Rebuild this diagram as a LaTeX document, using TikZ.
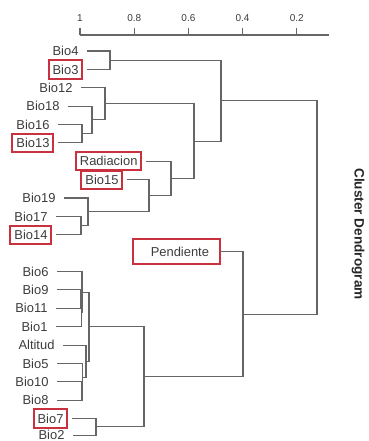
\documentclass[tikz,border=0pt]{standalone}
\usepackage{fontspec}
\setmainfont{Liberation Sans}
\usepackage{xcolor}

\definecolor{boxred}{HTML}{C8313D}
\definecolor{lnk}{HTML}{666666}
\definecolor{txt}{HTML}{3C3C3C}

\tikzset{
  lab/.style={anchor=east, inner xsep=3pt, outer xsep=3.4pt, minimum height=13.5pt,
    text=txt, font=\fontsize{9.7}{11}\selectfont},
  sel/.style={lab, draw=boxred, line width=1.5pt},
  den/.style={draw=lnk, line width=0.8pt},
  ticklab/.style={text=txt, font=\fontsize{7.5}{9}\selectfont, inner sep=0pt}
}

\begin{document}
\begin{tikzpicture}[x=0.75pt, y=-0.75pt]
\useasboundingbox (0,0) rectangle (368,441);

% axis
\coordinate (a0) at (80,35);
\coordinate (a1) at (329.3,35);
\draw[den] (a0) -- (a1);
\draw[den] (80,35) -- (80,28);
\node[ticklab] (t10) at (80,18) {1};
\draw[den] (134.2,35) -- (134.2,28);
\node[ticklab] (t08) at (134.2,18) {0.8};
\draw[den] (188.4,35) -- (188.4,28);
\node[ticklab] (t06) at (188.4,18) {0.6};
\draw[den] (242.6,35) -- (242.6,28);
\node[ticklab] (t04) at (242.6,18) {0.4};
\draw[den] (296.8,35) -- (296.8,28);
\node[ticklab] (t02) at (296.8,18) {0.2};

% leaves
\node[lab] (bio4) at (87,51.0) {Bio4};
\node[sel] (bio3) at (87,69.4) {Bio3};
\node[lab] (bio12) at (81,87.8) {Bio12};
\node[lab] (bio18) at (68,106.1) {Bio18};
\node[lab] (bio16) at (58,124.5) {Bio16};
\node[sel] (bio13) at (58,142.9) {Bio13};
\node[sel] (rad) at (146,161.3) {Radiacion};
\node[sel] (bio15) at (127,179.7) {Bio15};
\node[lab] (bio19) at (64,198.0) {Bio19};
\node[lab] (bio17) at (56,216.4) {Bio17};
\node[sel] (bio14) at (56,234.8) {Bio14};
\node[sel, outer xsep=0pt, minimum width=65.25pt, minimum height=18.75pt,
  text width=48.75pt, align=right, inner xsep=8.25pt] (pend) at (220,251.5) {Pendiente};
\node[lab] (bio6) at (57,271.6) {Bio6};
\node[lab] (bio9) at (57,289.9) {Bio9};
\node[lab] (bio11) at (56,308.3) {Bio11};
\node[lab] (bio1) at (56,326.7) {Bio1};
\node[lab] (alt) at (63,345.1) {Altitud};
\node[lab] (bio5) at (57,363.5) {Bio5};
\node[lab] (bio10) at (57,381.8) {Bio10};
\node[lab] (bio8) at (57,400.2) {Bio8};
\node[sel] (bio7) at (72,418.4) {Bio7};
\node[lab] (bio2) at (73,435.2) {Bio2};

% merges
\coordinate (m43) at (110,60.2);
\coordinate (m1613) at (82,133.7);
\coordinate (m18) at (92,119.9);
\coordinate (m12) at (105,103.9);
\coordinate (m1714) at (81,225.6);
\coordinate (m19) at (88,211.8);
\coordinate (m15) at (149,195.7);
\coordinate (mrad) at (171,178.5);
\coordinate (mmid) at (194,141.2);
\coordinate (mtop) at (221,100.7);
\coordinate (m911) at (81,299.1);
\coordinate (m1) at (81.5,312.9);
\coordinate (m6) at (82,292.3);
\coordinate (m108) at (82,391.0);
\coordinate (m5) at (82.5,377.2);
\coordinate (malt) at (86,361.2);
\coordinate (mc) at (89,326.7);
\coordinate (m72) at (96,426.8);
\coordinate (mlow) at (144,376.8);
\coordinate (mpend) at (243,314.2);
\coordinate (root) at (317,208);

% tree
\draw[den] (bio4.east) -| (m43) |- (bio3.east);
\draw[den] (bio16.east) -| (m1613) |- (bio13.east);
\draw[den] (bio18.east) -| (m18) |- (m1613);
\draw[den] (bio12.east) -| (m12) |- (m18);
\draw[den] (bio17.east) -| (m1714) |- (bio14.east);
\draw[den] (bio19.east) -| (m19) |- (m1714);
\draw[den] (bio15.east) -| (m15) |- (m19);
\draw[den] (rad.east) -| (mrad) |- (m15);
\draw[den] (m12) -| (mmid) |- (mrad);
\draw[den] (m43) -| (mtop) |- (mmid);
\draw[den] (bio9.east) -| (m911) |- (bio11.east);
\draw[den] (m911) -| (m1) |- (bio1.east);
\draw[den] (bio6.east) -| (m6) |- (m1);
\draw[den] (bio10.east) -| (m108) |- (bio8.east);
\draw[den] (bio5.east) -| (m5) |- (m108);
\draw[den] (alt.east) -| (malt) |- (m5);
\draw[den] (m6) -| (mc) |- (malt);
\draw[den] (bio7.east) -| (m72) |- (bio2.east);
\draw[den] (mc) -| (mlow) |- (m72);
\draw[den] (pend.east) -| (mpend) |- (mlow);
\draw[den] (mtop) -| (root) |- (mpend);

\node[rotate=-90, text=black!85, font=\fontsize{10.2}{12}\selectfont\bfseries] (title) at (358,234) {Cluster Dendrogram};
\end{tikzpicture}
\end{document}
